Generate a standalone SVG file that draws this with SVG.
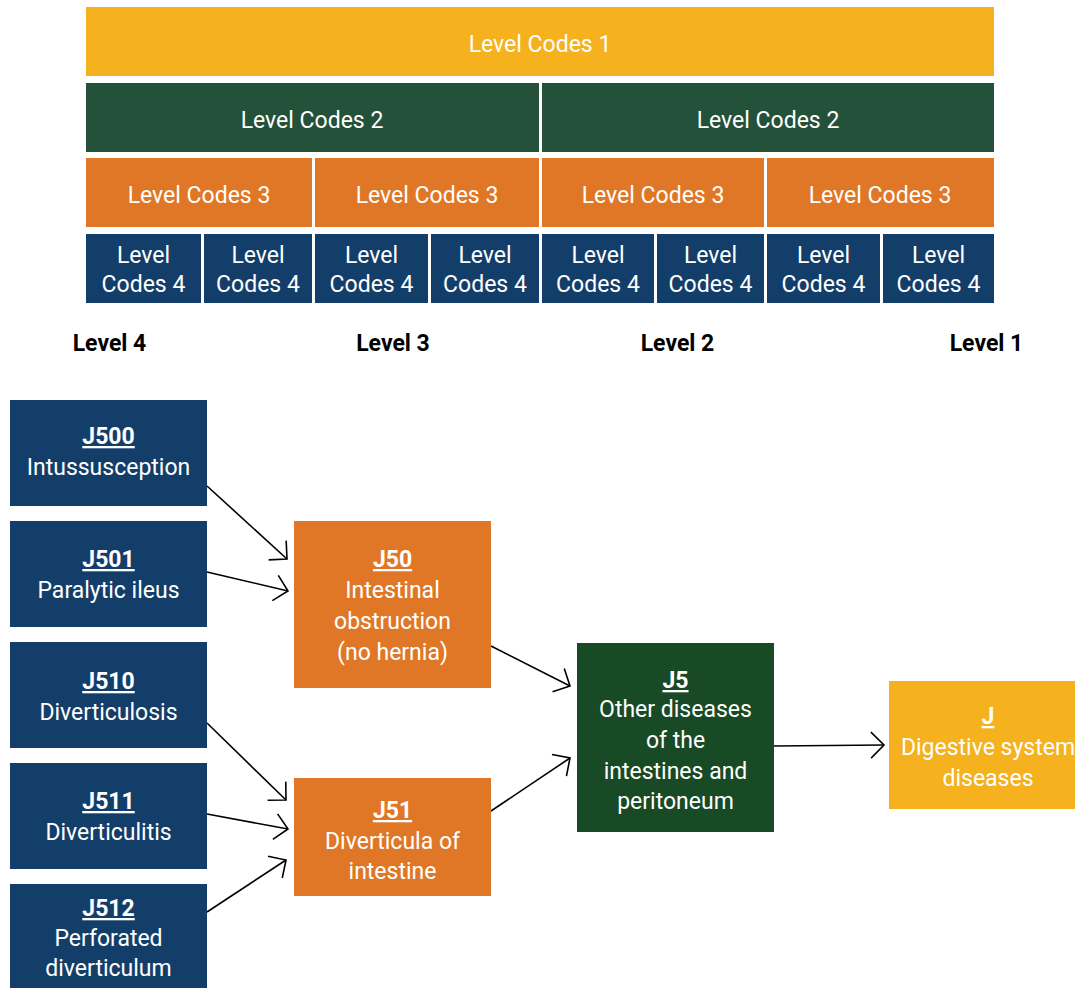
<svg xmlns="http://www.w3.org/2000/svg" width="1075" height="988" viewBox="0 0 1075 988">
<style>
.t{font-family:Roboto,"Open Sans","Liberation Sans",sans-serif;font-size:23px;fill:#fff;text-anchor:middle}
.b{font-weight:bold;text-decoration:underline}
.lv{font-family:Roboto,"Open Sans","Liberation Sans",sans-serif;font-size:23px;font-weight:bold;fill:#000;text-anchor:middle}
.y{fill:#F5B11E}.g{fill:#245139}.o{fill:#E07727}.n{fill:#143E6A}.dg{fill:#174A25}
.c{stroke:#000;stroke-width:1.6;fill:none}
</style>
<defs>
<marker id="ah" markerUnits="userSpaceOnUse" markerWidth="30" markerHeight="30" viewBox="-16 -15 20 30" refX="0" refY="0" orient="auto">
<path d="M-13,-13 L0,0 L-13,13" fill="none" stroke="#000" stroke-width="1.6"/>
</marker>
</defs>
<g id="legend">
<g id="lc1"><rect class="y" x="86" y="7" width="908" height="69"/><text class="t" x="540" y="52">Level Codes 1</text></g>
<g id="lc2a"><rect class="g" x="86" y="83" width="453" height="69"/><text class="t" x="312" y="128">Level Codes 2</text></g>
<g id="lc2b"><rect class="g" x="542" y="83" width="452" height="69"/><text class="t" x="768" y="128">Level Codes 2</text></g>
<g id="lc3a"><rect class="o" x="86" y="158" width="226" height="69"/><text class="t" x="199" y="203">Level Codes 3</text></g>
<g id="lc3b"><rect class="o" x="315" y="158" width="224" height="69"/><text class="t" x="427" y="203">Level Codes 3</text></g>
<g id="lc3c"><rect class="o" x="542" y="158" width="222" height="69"/><text class="t" x="653" y="203">Level Codes 3</text></g>
<g id="lc3d"><rect class="o" x="767" y="158" width="227" height="69"/><text class="t" x="880" y="203">Level Codes 3</text></g>
<g id="lc4a"><rect class="n" x="86" y="234" width="115" height="69"/><text class="t" x="143.5" y="263">Level</text><text class="t" x="143.5" y="292">Codes 4</text></g>
<g id="lc4b"><rect class="n" x="204" y="234" width="108" height="69"/><text class="t" x="258" y="263">Level</text><text class="t" x="258" y="292">Codes 4</text></g>
<g id="lc4c"><rect class="n" x="315" y="234" width="113" height="69"/><text class="t" x="371.5" y="263">Level</text><text class="t" x="371.5" y="292">Codes 4</text></g>
<g id="lc4d"><rect class="n" x="431" y="234" width="108" height="69"/><text class="t" x="485" y="263">Level</text><text class="t" x="485" y="292">Codes 4</text></g>
<g id="lc4e"><rect class="n" x="542" y="234" width="112" height="69"/><text class="t" x="598" y="263">Level</text><text class="t" x="598" y="292">Codes 4</text></g>
<g id="lc4f"><rect class="n" x="657" y="234" width="107" height="69"/><text class="t" x="710.5" y="263">Level</text><text class="t" x="710.5" y="292">Codes 4</text></g>
<g id="lc4g"><rect class="n" x="767" y="234" width="113" height="69"/><text class="t" x="823.5" y="263">Level</text><text class="t" x="823.5" y="292">Codes 4</text></g>
<g id="lc4h"><rect class="n" x="883" y="234" width="111" height="69"/><text class="t" x="938.5" y="263">Level</text><text class="t" x="938.5" y="292">Codes 4</text></g>
</g>
<g id="levels">
<text class="lv" x="109.5" y="351">Level 4</text>
<text class="lv" x="393" y="351">Level 3</text>
<text class="lv" x="677.5" y="351">Level 2</text>
<text class="lv" x="986.5" y="351">Level 1</text>
</g>
<g id="connectors">
<line class="c" x1="207" y1="486" x2="287" y2="559" marker-end="url(#ah)"/>
<line class="c" x1="207" y1="572" x2="288" y2="591" marker-end="url(#ah)"/>
<line class="c" x1="491" y1="646" x2="570" y2="686" marker-end="url(#ah)"/>
<line class="c" x1="207" y1="723" x2="286" y2="800" marker-end="url(#ah)"/>
<line class="c" x1="207" y1="814" x2="288" y2="829" marker-end="url(#ah)"/>
<line class="c" x1="207" y1="912" x2="286" y2="860" marker-end="url(#ah)"/>
<line class="c" x1="491" y1="811" x2="570" y2="758" marker-end="url(#ah)"/>
<line class="c" x1="774" y1="746" x2="884" y2="745" marker-end="url(#ah)"/>
</g>
<g id="J500"><rect class="n" x="10" y="400" width="197" height="106"/><text class="t b" x="108.5" y="444">J500</text><text class="t" x="108.5" y="475">Intussusception</text></g>
<g id="J501"><rect class="n" x="10" y="521" width="197" height="106"/><text class="t b" x="108.5" y="567">J501</text><text class="t" x="108.5" y="598">Paralytic ileus</text></g>
<g id="J510"><rect class="n" x="10" y="642" width="197" height="106"/><text class="t b" x="108.5" y="689">J510</text><text class="t" x="108.5" y="720">Diverticulosis</text></g>
<g id="J511"><rect class="n" x="10" y="763" width="197" height="106"/><text class="t b" x="108.5" y="809">J511</text><text class="t" x="108.5" y="840">Diverticulitis</text></g>
<g id="J512"><rect class="n" x="10" y="884" width="197" height="106"/><text class="t b" x="108.5" y="916">J512</text><text class="t" x="108.5" y="946">Perforated</text><text class="t" x="108.5" y="976">diverticulum</text></g>
<g id="J50"><rect class="o" x="294" y="521" width="197" height="167"/><text class="t b" x="392.5" y="567">J50</text><text class="t" x="392.5" y="598">Intestinal</text><text class="t" x="392.5" y="629">obstruction</text><text class="t" x="392.5" y="660">(no hernia)</text></g>
<g id="J51"><rect class="o" x="294" y="778" width="197" height="118"/><text class="t b" x="392.5" y="818">J51</text><text class="t" x="392.5" y="849">Diverticula of</text><text class="t" x="392.5" y="879">intestine</text></g>
<g id="J5"><rect class="dg" x="577" y="643" width="197" height="189"/><text class="t b" x="675.5" y="688">J5</text><text class="t" x="675.5" y="717">Other diseases</text><text class="t" x="675.5" y="748">of the</text><text class="t" x="675.5" y="779">intestines and</text><text class="t" x="675.5" y="809">peritoneum</text></g>
<g id="J"><rect class="y" x="889" y="681" width="197" height="128"/><text class="t b" x="988" y="724">J</text><text class="t" x="988" y="755">Digestive system</text><text class="t" x="988" y="786">diseases</text></g>
</svg>
